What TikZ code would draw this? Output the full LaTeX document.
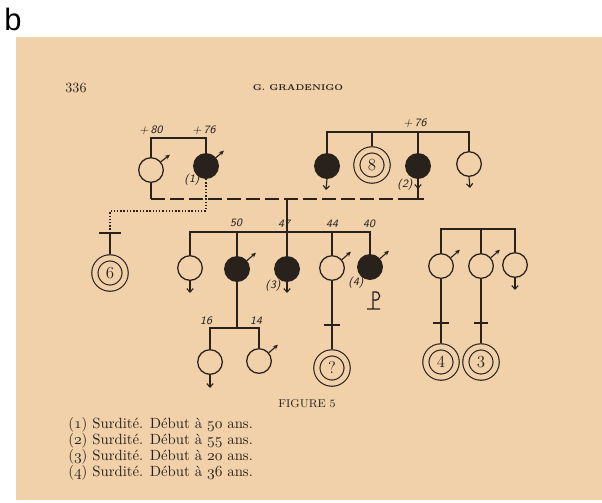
\documentclass[tikz,border=0pt]{standalone}
\usepackage{fontspec}
\newfontfamily\panelfont{Liberation Sans}
\usetikzlibrary{arrows.meta}
\definecolor{paper}{RGB}{240,209,170}
\definecolor{ink}{RGB}{40,33,28}
\newcommand{\olds}[1]{$\mathnormal{#1}$}
\tikzset{
  well/.style={circle, draw=ink, fill=paper, line width=0.9pt, minimum size=17.5pt, inner sep=0pt},
  sick/.style={circle, draw=ink, fill=ink, line width=0.9pt, minimum size=17.5pt, inner sep=0pt},
  many/.style={circle, draw=ink, double=paper, double distance=3.6pt, line width=0.8pt, minimum size=21.5pt, inner sep=0pt, outer sep=2.6pt, text=ink, font=\large},
  male/.style={draw=ink, line width=0.8pt, -{Stealth[length=3.5pt, width=3.2pt]}},
  fem/.style={draw=ink, line width=0.8pt, -{Straight Barb[length=2.5pt, width=4.5pt]}},
  kin/.style={draw=ink, line width=0.9pt},
  sibs/.style={draw=ink, line width=1.2pt},
  wed/.style={draw=ink, line width=0.9pt, dash pattern=on 10pt off 3.5pt},
  stray/.style={draw=ink, line width=0.8pt, dash pattern=on 1pt off 1.3pt},
  hand/.style={text=ink, font=\sffamily\itshape\fontsize{8}{9}\selectfont, inner sep=1pt},
  legend/.style={text=ink, font=\fontsize{10.5}{12}\selectfont, inner sep=0pt, anchor=west}
  }

\begin{document}
\begin{tikzpicture}[x=0.025cm, y=-0.025cm]
	% Frame
	\useasboundingbox (0,0) rectangle (602,502);
	\fill[paper] (16,37) rectangle (602,500);
	\node[font=\panelfont\fontsize{22}{22}\selectfont] (panel) at (13,19) {b};
	\node[text=ink, font=\fontsize{10}{12}\selectfont] (page) at (76,88) {336};
	\node[text=ink, font=\fontsize{6}{7}\selectfont\bfseries] (author) at (298,88) {G.~GRADENIGO};

	% Nodes, first generation
	\node[well] (grandpa) at (151,170) {};
	\node[sick] (grandma) at (206,166) {};
	\node[sick] (aunt1) at (327,166) {};
	\node[many] (octo) at (372,165) {8};
	\node[sick] (grandma2) at (418,166) {};
	\node[well] (aunt2) at (469,164) {};
	\coordinate (top1) at (178,138);
	\coordinate (top2) at (398,132);
	\coordinate (wedl) at (151,199);
	\coordinate (wedr) at (418,199);
	\coordinate (stray) at (110,211);
	\coordinate (sixbar) at (110,233);

	% Nodes, second generation
	\node[many] (six) at (110,273) {6};
	\node[well] (c1) at (190,268) {};
	\node[sick] (c2) at (237,269) {};
	\node[sick] (c3) at (287,269) {};
	\node[well] (c4) at (332,268) {};
	\node[sick] (c5) at (370,267) {};
	\node[well] (r1) at (441,266) {};
	\node[well] (r2) at (481,266) {};
	\node[well] (r3) at (515,265) {};
	\coordinate (top3) at (280,232);
	\coordinate (top5) at (477,229);

	% Nodes, third generation
	\node[well] (g1) at (210,362) {};
	\node[well] (g2) at (259,361) {};
	\node[many] (quest) at (332,368) {?};
	\node[many] (four) at (441,362) {4};
	\node[many] (three) at (481,362) {3};
	\coordinate (top4) at (235,328);
	\coordinate (bar4) at (332,325);
	\coordinate (barr1) at (441,323);
	\coordinate (barr2) at (481,323);

	% Labels
	\node[hand] (age1) at (151,130) {+\,80};
	\node[hand] (age2) at (204,130) {+\,76};
	\node[hand] (age3) at (415,123) {+\,76};
	\node[hand] (note1) at (192,180) {(1)};
	\node[hand] (note2) at (405,185) {(2)};
	\node[hand] (age4) at (236,223) {50};
	\node[hand] (age5) at (284,224) {47};
	\node[hand] (age6) at (332,224) {44};
	\node[hand] (age7) at (369,224) {40};
	\node[hand] (note3) at (273,286) {(3)};
	\node[hand] (note4) at (356,283) {(4)};
	\node[hand] (age8) at (206,321) {16};
	\node[hand] (age9) at (256,321) {14};

	% Lines
	\draw[sibs] (grandpa.north) |- (top1) -| (grandma.north);
	\draw[sibs] (aunt1.north) |- (top2) -| (aunt2.north);
	\draw[kin] (octo.north |- top2) -- (octo.north);
	\draw[kin] (grandma2.north |- top2) -- (grandma2.north);
	\draw[kin] (grandpa.south) -- (wedl);
	\draw[wed] (wedl) -- (wedr);
	\draw[kin] (grandma2.south) -- (wedr);
	\draw[kin] ([xshift=-4pt]wedr) -- ([xshift=4pt]wedr);
	\draw[stray] (grandma.south) |- (stray) -- (sixbar);
	\draw[kin] ([xshift=-7.5pt]sixbar) -- ([xshift=7.5pt]sixbar);
	\draw[kin] (sixbar) -- (six.north);

	\draw[kin] (c3.north |- wedl) -- (c3.north);
	\draw[sibs] (c1.north) |- (top3) -| (c5.north);
	\draw[kin] (c2.north |- top3) -- (c2.north);
	\draw[kin] (c4.north |- top3) -- (c4.north);
	\draw[sibs] (r1.north) |- (top5) -| (r3.north);
	\draw[kin] (r2.north |- top5) -- (r2.north);

	\draw[kin] (c2.south) -- (c2.south |- top4);
	\draw[sibs] (g1.north) |- (top4) -| (g2.north);
	\draw[kin] (c4.south) -- (bar4) -- (quest.north);
	\draw[kin] ([xshift=-5.5pt]bar4) -- ([xshift=5.5pt]bar4);
	\draw[kin] (r1.south) -- (barr1) -- (four.north);
	\draw[kin] ([xshift=-6pt]barr1) -- ([xshift=6pt]barr1);
	\draw[kin] (r2.south) -- (barr2) -- (three.north);
	\draw[kin] ([xshift=-5pt]barr2) -- ([xshift=5pt]barr2);

	% Sex marks
	\draw[male] (grandpa.40) -- ++(9,-7);
	\draw[male] (grandma.40) -- ++(8,-7);
	\draw[fem] (aunt1.south) -- ++(-1,11);
	\draw[fem] (grandma2.south) -- ++(0,10);
	\draw[fem] (aunt2.south) -- ++(1,11);
	\draw[fem] (c1.south) -- ++(0,12);
	\draw[male] (c2.40) -- ++(9,-8);
	\draw[fem] (c3.south) -- ++(0,11);
	\draw[male] (c4.40) -- ++(9,-8);
	\draw[male] (c5.40) -- ++(9,-8);
	\draw[kin] (367,309) -- (380,309) (373,309) -- (373,292) .. controls (382,290) and (382,302) .. (373,300);
	\draw[fem] (g1.south) -- ++(0,13);
	\draw[male] (g2.40) -- ++(9,-8);
	\draw[male] (r1.40) -- ++(9,-8);
	\draw[male] (r2.40) -- ++(9,-8);
	\draw[fem] (r3.south) -- ++(0,12);

	% Caption
	\node[text=ink, font=\fontsize{8}{9}\selectfont] (caption) at (307,404) {FIGURE~5};
	\node[legend] (key1) at (68,425) {(\olds{1}) Surdité. Début à \olds{50} ans.};
	\node[legend] (key2) at (68,441) {(\olds{2}) Surdité. Début à \olds{55} ans.};
	\node[legend] (key3) at (68,457) {(\olds{3}) Surdité. Début à \olds{20} ans.};
	\node[legend] (key4) at (68,473) {(\olds{4}) Surdité. Début à \olds{36} ans.};

\end{tikzpicture}
\end{document}
